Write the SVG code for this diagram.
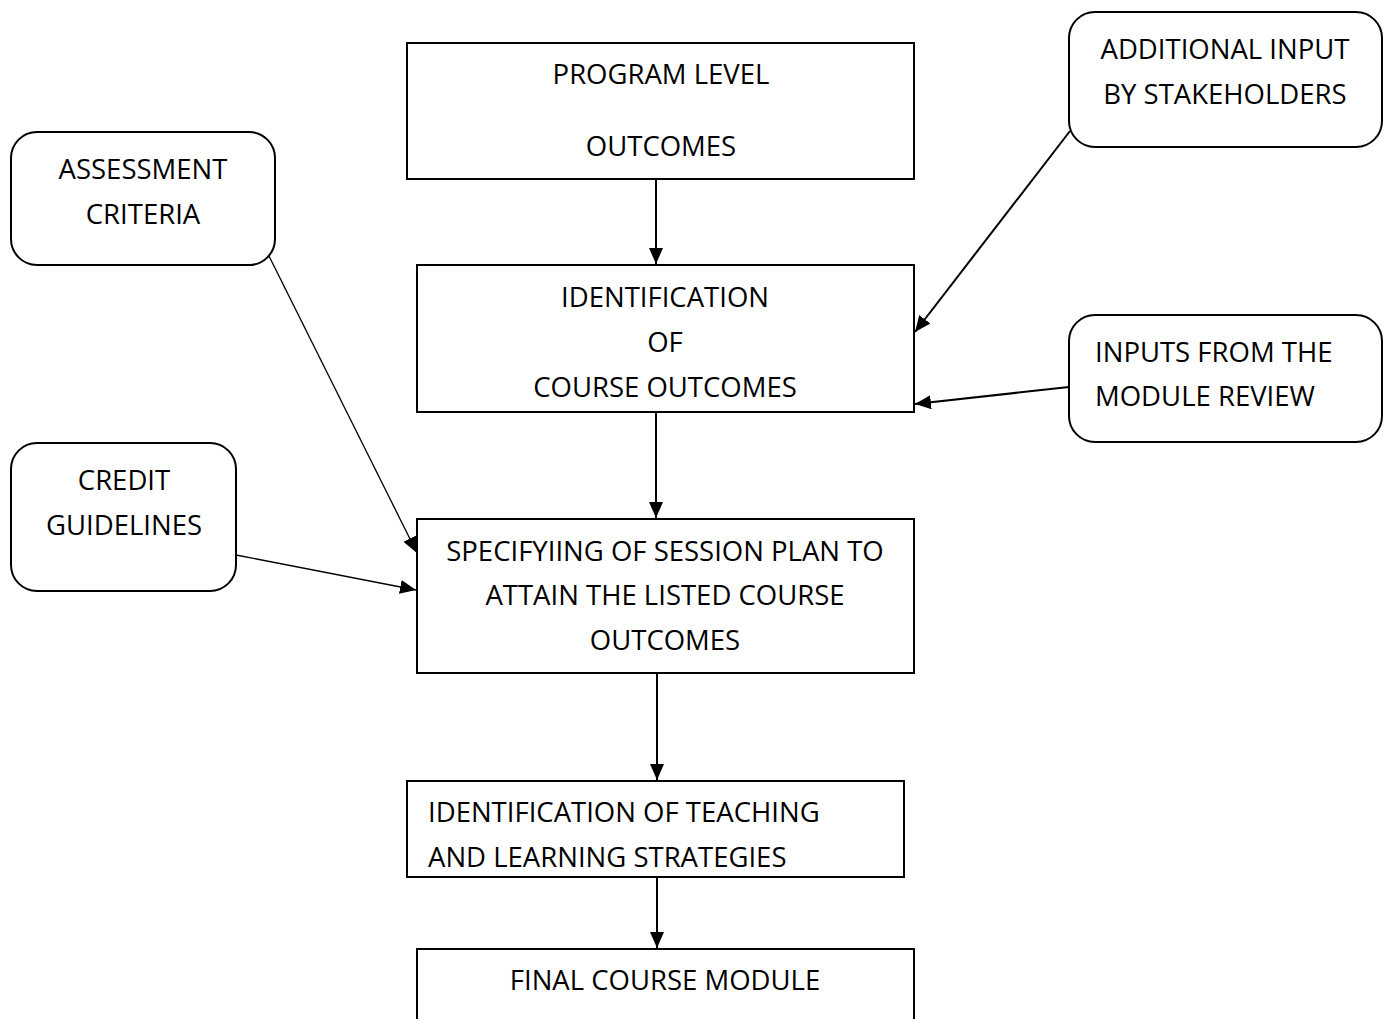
<svg xmlns="http://www.w3.org/2000/svg" width="1390" height="1019" viewBox="0 0 1390 1019">
<defs>
<style>
.box{fill:#fff;stroke:#000;stroke-width:2}
.t{font-family:"Open Sans","Liberation Sans",sans-serif;font-size:27.5px;fill:#000}
.c{text-anchor:middle}
.con{stroke:#000;stroke-width:2;fill:none}
.thin{stroke:#000;stroke-width:1.3;fill:none}
</style>
<marker id="ah2" markerWidth="16" markerHeight="14" refX="16" refY="7" orient="auto" markerUnits="userSpaceOnUse" viewBox="0 0 16 14">
<path d="M0,0 L16,7 L0,14 z" fill="#000"/>
</marker>
</defs>
<rect width="1390" height="1019" fill="#fff"/>
<g id="connectors">
<line class="con" x1="656" y1="180" x2="656" y2="264" marker-end="url(#ah2)"/>
<line class="con" x1="656" y1="413" x2="656" y2="518" marker-end="url(#ah2)"/>
<line class="con" x1="657" y1="674" x2="657" y2="780" marker-end="url(#ah2)"/>
<line class="con" x1="657" y1="878" x2="657" y2="948" marker-end="url(#ah2)"/>
<line class="thin" x1="267" y1="252" x2="417" y2="553" marker-end="url(#ah2)"/>
<line class="thin" x1="236" y1="555" x2="416" y2="590" marker-end="url(#ah2)"/>
<line class="con" x1="1070" y1="131" x2="915" y2="332" marker-end="url(#ah2)"/>
<line class="con" x1="1069" y1="387" x2="915" y2="404" marker-end="url(#ah2)"/>
</g>
<g id="program-level">
<rect class="box" x="407" y="43" width="507" height="136"/>
<text class="t c" x="661" y="84">PROGRAM LEVEL</text>
<text class="t c" x="661" y="156">OUTCOMES</text>
</g>
<g id="identification-co">
<rect class="box" x="417" y="265" width="497" height="147"/>
<text class="t c" x="665" y="307">IDENTIFICATION</text>
<text class="t c" x="665" y="352">OF</text>
<text class="t c" x="665" y="397">COURSE OUTCOMES</text>
</g>
<g id="session-plan">
<rect class="box" x="417" y="519" width="497" height="154"/>
<text class="t c" x="665" y="561">SPECIFYIING OF SESSION PLAN TO</text>
<text class="t c" x="665" y="605">ATTAIN THE LISTED COURSE</text>
<text class="t c" x="665" y="650">OUTCOMES</text>
</g>
<g id="teaching-strategies">
<rect class="box" x="407" y="781" width="497" height="96"/>
<text class="t" x="428" y="822">IDENTIFICATION OF TEACHING</text>
<text class="t" x="428" y="867">AND LEARNING STRATEGIES</text>
</g>
<g id="final-module">
<rect class="box" x="417" y="949" width="497" height="100"/>
<text class="t c" x="665" y="990">FINAL COURSE MODULE</text>
</g>
<g id="assessment-criteria">
<rect class="box" x="11" y="132" width="264" height="133" rx="26"/>
<text class="t c" x="143" y="179">ASSESSMENT</text>
<text class="t c" x="143" y="224">CRITERIA</text>
</g>
<g id="credit-guidelines">
<rect class="box" x="11" y="443" width="225" height="148" rx="26"/>
<text class="t c" x="124" y="490">CREDIT</text>
<text class="t c" x="124" y="535">GUIDELINES</text>
</g>
<g id="additional-input">
<rect class="box" x="1069" y="12" width="313" height="135" rx="26"/>
<text class="t c" x="1225" y="59">ADDITIONAL INPUT</text>
<text class="t c" x="1225" y="104">BY STAKEHOLDERS</text>
</g>
<g id="module-review">
<rect class="box" x="1069" y="315" width="313" height="127" rx="26"/>
<text class="t" x="1095" y="362">INPUTS FROM THE</text>
<text class="t" x="1095" y="406">MODULE REVIEW</text>
</g>
</svg>
